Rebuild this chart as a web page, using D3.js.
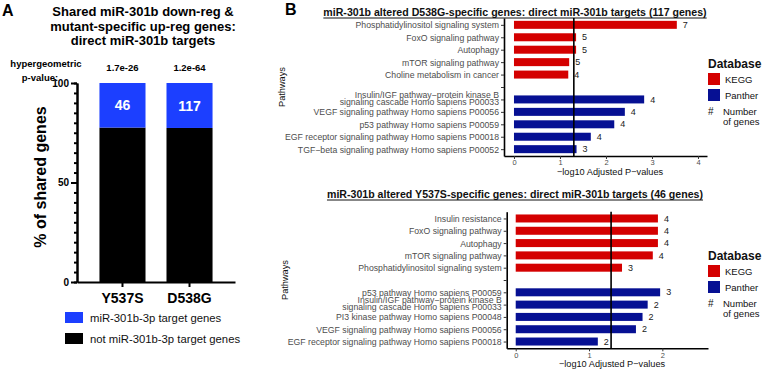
<!DOCTYPE html>
<html><head><meta charset="utf-8">
<script src="https://cdn.jsdelivr.net/npm/d3@7"></script>
<style>body{margin:0;background:#fff}svg{display:block;font-family:"Liberation Sans",Arial,Helvetica,sans-serif}</style>
</head><body><svg id="c" width="762" height="369"></svg>
<script>
// ---------- Panel A data ----------
const mutants = ["Y537S", "D538G"];
const targetPct = [22.4, 22.6];
const targetCounts = [46, 117];
const hyperP = ["1.7e-26", "1.2e-64"];
const pctTicks = [0, 50, 100];
const pctMinorTicks = d3.range(0, 101, 5);
const legendA = ["miR-301b-3p target genes", "not miR-301b-3p target genes"];

// ---------- Panel B data ----------
const d538gPathways = ["Phosphatidylinositol signaling system", "FoxO signaling pathway", "Autophagy",
  "mTOR signaling pathway", "Choline metabolism in cancer", "",
  "Insulin/IGF pathway\u2212protein kinase B\nsignaling cascade Homo sapiens P00033",
  "VEGF signaling pathway Homo sapiens P00056", "p53 pathway Homo sapiens P00059",
  "EGF receptor signaling pathway Homo sapiens P00018", "TGF\u2212beta signaling pathway Homo sapiens P00052"];
const d538gValues = [3.54, 1.35, 1.35, 1.20, 1.18, null, 2.83, 2.41, 2.18, 1.67, 1.36];
const d538gCounts = [7, 5, 5, 5, 4, null, 4, 4, 4, 4, 3];
const d538gDb = ["KEGG", "KEGG", "KEGG", "KEGG", "KEGG", null, "Panther", "Panther", "Panther", "Panther", "Panther"];

const y537sPathways = ["Insulin resistance", "FoxO signaling pathway", "Autophagy", "mTOR signaling pathway",
  "Phosphatidylinositol signaling system", "", "p53 pathway Homo sapiens P00059",
  "Insulin/IGF pathway\u2212protein kinase B\nsignaling cascade Homo sapiens P00033",
  "PI3 kinase pathway Homo sapiens P00048", "VEGF signaling pathway Homo sapiens P00056",
  "EGF receptor signaling pathway Homo sapiens P00018"];
const y537sValues = [1.94, 1.94, 1.94, 1.87, 1.45, null, 1.97, 1.80, 1.73, 1.64, 1.12];
const y537sCounts = [4, 4, 4, 4, 3, null, 3, 2, 2, 2, 2];
const y537sDb = ["KEGG", "KEGG", "KEGG", "KEGG", "KEGG", null, "Panther", "Panther", "Panther", "Panther", "Panther"];

const d538gXTicks = [0, 1, 2, 3, 4];
const y537sXTicks = [0, 1, 2];
const sigThreshold = -Math.log10(0.05);
const databases = ["KEGG", "Panther"];
const dbColor = {KEGG: "#d40000", Panther: "#061093"};

const svg = d3.select("#c");

// ================= Panel A =================
svg.append("text").attr("x", 2).attr("y", 16).attr("font-size", 16).attr("font-weight", "bold").text("A");
const titleA = ["Shared miR-301b down-reg &", "mutant-specific up-reg genes:", "direct miR-301b targets"];
svg.append("g").selectAll("text").data(titleA).join("text")
  .attr("x", 143).attr("y", (d, i) => 16 + i * 14.5).attr("text-anchor", "middle")
  .attr("font-size", 13).attr("font-weight", "bold").text(d => d);

const xA = d3.scaleBand().domain(mutants).range([77, 235]).paddingInner(0.313).paddingOuter(0.335);
const yA = d3.scaleLinear().domain([0, 100]).range([282, 83]);

// stacked bars
const gA = svg.append("g");
gA.selectAll("rect.nt").data(mutants).join("rect")
  .attr("x", d => xA(d)).attr("width", xA.bandwidth())
  .attr("y", (d, i) => yA(100 - targetPct[i])).attr("height", (d, i) => yA(0) - yA(100 - targetPct[i]))
  .attr("fill", "#000");
gA.selectAll("rect.t").data(mutants).join("rect")
  .attr("x", d => xA(d)).attr("width", xA.bandwidth())
  .attr("y", yA(100)).attr("height", (d, i) => yA(100 - targetPct[i]) - yA(100))
  .attr("fill", "#1c3fff");
gA.selectAll("text.cnt").data(mutants).join("text")
  .attr("x", d => xA(d) + xA.bandwidth() / 2)
  .attr("y", (d, i) => (yA(100) + yA(100 - targetPct[i])) / 2).attr("dy", "0.36em")
  .attr("text-anchor", "middle").attr("fill", "#fff").attr("font-size", 14).attr("font-weight", "bold")
  .text((d, i) => targetCounts[i]);

// y axis (minor + major)
const yMinor = svg.append("g").attr("transform", "translate(77,0)")
  .call(d3.axisLeft(yA).tickValues(pctMinorTicks).tickSize(3).tickSizeOuter(0).tickFormat(""));
const yMajor = svg.append("g").attr("transform", "translate(77,0)")
  .call(d3.axisLeft(yA).tickValues(pctTicks).tickSize(6).tickSizeOuter(0).tickPadding(2));
[yMinor, yMajor].forEach(g => { g.selectAll("path,line").attr("stroke", "#000").attr("stroke-width", 2); });
yMajor.selectAll("text").attr("font-size", 10).attr("font-weight", "bold").attr("fill", "#000")
  .attr("font-family", "Liberation Sans, Arial, sans-serif");

const xAxA = svg.append("g").attr("transform", "translate(0,282)")
  .call(d3.axisBottom(xA).tickSize(5).tickSizeOuter(0).tickPadding(6));
xAxA.selectAll("path,line").attr("stroke", "#000").attr("stroke-width", 2);
xAxA.selectAll("text").attr("font-size", 14).attr("font-weight", "bold").attr("fill", "#000")
  .attr("font-family", "Liberation Sans, Arial, sans-serif");

svg.append("text").attr("transform", "translate(46,177) rotate(-90)").attr("text-anchor", "middle")
  .attr("font-size", 16).attr("font-weight", "bold").text("% of shared genes");

// hypergeometric p-values
svg.append("text").attr("x", 46).attr("y", 67).attr("text-anchor", "middle").attr("font-size", 9.5).attr("font-weight", "bold").text("hypergeometric");
svg.append("text").attr("x", 40).attr("y", 81).attr("text-anchor", "middle").attr("font-size", 9.5).attr("font-weight", "bold").text("p-value:");
svg.append("g").selectAll("text").data(mutants).join("text")
  .attr("x", d => xA(d) + xA.bandwidth() / 2).attr("y", 71).attr("text-anchor", "middle")
  .attr("font-size", 9.5).attr("font-weight", "bold").text((d, i) => hyperP[i]);

// legend A
const legA = svg.append("g").selectAll("g").data(legendA).join("g")
  .attr("transform", (d, i) => `translate(65,${312 + i * 21})`);
legA.append("rect").attr("width", 18).attr("height", 11).attr("fill", (d, i) => i === 0 ? "#1c3fff" : "#000");
legA.append("text").attr("x", 25).attr("y", 10).attr("font-size", 11.3).attr("fill", "#111").text(d => d);

// ================= Panel B =================
svg.append("text").attr("x", 285).attr("y", 15).attr("font-size", 16).attr("font-weight", "bold").text("B");

function pathChart(cfg) {
  const g = svg.append("g");
  const x = d3.scaleLinear().domain(cfg.xDomain).range([cfg.left, cfg.right]);
  const y = d3.scalePoint().domain(cfg.names).range([cfg.top, cfg.bottom]).padding(0.55);

  // title
  const t = g.append("text").attr("x", cfg.titleX).attr("y", cfg.titleY).attr("text-anchor", "middle")
    .attr("font-size", 10.6).attr("font-weight", "bold").attr("fill", "#111").text(cfg.title);
  const w = t.node().getComputedTextLength();
  g.append("line").attr("x1", cfg.titleX - w / 2).attr("x2", cfg.titleX + w / 2)
    .attr("y1", cfg.titleY + 2).attr("y2", cfg.titleY + 2).attr("stroke", "#111").attr("stroke-width", 1);

  // bars
  const rows = cfg.names.map((n, i) => ({n, v: cfg.values[i], c: cfg.counts[i], db: cfg.db[i]})).filter(d => d.v != null);
  g.selectAll("rect").data(rows).join("rect")
    .attr("x", x(0)).attr("width", d => x(d.v) - x(0))
    .attr("y", d => y(d.n) - 4).attr("height", 8).attr("fill", d => dbColor[d.db]);
  g.selectAll("text.cnt").data(rows).join("text")
    .attr("x", d => x(d.v) + 6).attr("y", d => y(d.n)).attr("dy", "0.35em")
    .attr("font-size", 9).attr("fill", "#1a1a1a").text(d => d.c);

  // significance line
  g.append("line").attr("x1", x(sigThreshold)).attr("x2", x(sigThreshold))
    .attr("y1", cfg.top).attr("y2", cfg.bottom).attr("stroke", "#000").attr("stroke-width", 1.6);

  // y axis
  const ya = g.append("g").attr("transform", `translate(${cfg.left},0)`)
    .call(d3.axisLeft(y).tickSize(3).tickSizeOuter(0).tickPadding(2).tickFormat(""));
  ya.select("path").attr("stroke", "#000").attr("stroke-width", 1.6);
  ya.selectAll("line").attr("stroke", "#333");
  ya.selectAll(".tick").each(function(d) {
    const lines = d.split("\n");
    const txt = d3.select(this).append("text").attr("x", -5).attr("text-anchor", "end")
      .attr("font-size", 8.7).attr("fill", "#4d4d4d");
    lines.forEach((l, k) => {
      txt.append("tspan").attr("x", -5).attr("y", lines.length > 1 ? -1.5 : 0)
        .attr("dy", (0.35 + (k - (lines.length - 1) / 2) * 0.8) + "em").text(l);
    });
  });

  // x axis
  const xa = g.append("g").attr("transform", `translate(0,${cfg.bottom})`)
    .call(d3.axisBottom(x).tickValues(cfg.xTicks).tickSize(3).tickSizeOuter(0).tickPadding(1).tickFormat(d3.format("d")));
  xa.select("path").attr("stroke", "#000").attr("stroke-width", 1.6);
  xa.selectAll("line").attr("stroke", "#333");
  xa.selectAll("text").attr("font-size", 7.5).attr("fill", "#4d4d4d").attr("font-family", "Liberation Sans, Arial, sans-serif");
  g.append("text").attr("x", cfg.xTitleX).attr("y", cfg.bottom + 19).attr("text-anchor", "middle")
    .attr("font-size", 9.2).attr("fill", "#111").text("\u2212log10 Adjusted P\u2212values");

  g.append("text").attr("transform", `translate(${cfg.left - 219},${(cfg.top + cfg.bottom) / 2}) rotate(-90)`)
    .attr("text-anchor", "middle").attr("font-size", 9.2).attr("fill", "#111").text("Pathways");

  // legend
  const lg = g.append("g").attr("transform", `translate(708,${cfg.legendY})`);
  lg.append("text").attr("y", 4).attr("font-size", 12).attr("font-weight", "bold").attr("fill", "#111").text("Database");
  const items = lg.selectAll("g").data(databases).join("g").attr("transform", (d, i) => `translate(0,${9 + i * 16})`);
  items.append("rect").attr("width", 12).attr("height", 12).attr("fill", d => dbColor[d]);
  items.append("text").attr("x", 17).attr("y", 10).attr("font-size", 9.5).attr("fill", "#111").text(d => d);
  lg.append("text").attr("x", 0).attr("y", 51).attr("font-size", 10).attr("fill", "#111").text("#");
  lg.append("text").attr("x", 15).attr("y", 51).attr("font-size", 9.5).attr("fill", "#111").text("Number");
  lg.append("text").attr("x", 15).attr("y", 61).attr("font-size", 9.5).attr("fill", "#111").text("of genes");
}

pathChart({
  title: "miR-301b altered D538G-specific genes: direct miR-301b targets (117 genes)",
  titleX: 515, titleY: 16,
  names: d538gPathways, values: d538gValues, counts: d538gCounts, db: d538gDb,
  xDomain: [-0.217, 4.196], xTicks: d538gXTicks,
  left: 504, right: 707, top: 18, bottom: 156, xTitleX: 610, legendY: 64
});
pathChart({
  title: "miR-301b altered Y537S-specific genes: direct miR-301b targets (46 genes)",
  titleX: 515, titleY: 198,
  names: y537sPathways, values: y537sValues, counts: y537sCounts, db: y537sDb,
  xDomain: [-0.123, 2.623], xTicks: y537sXTicks,
  left: 506.7, right: 708, top: 211.7, bottom: 348.3, xTitleX: 612, legendY: 256
});
</script></body></html>
